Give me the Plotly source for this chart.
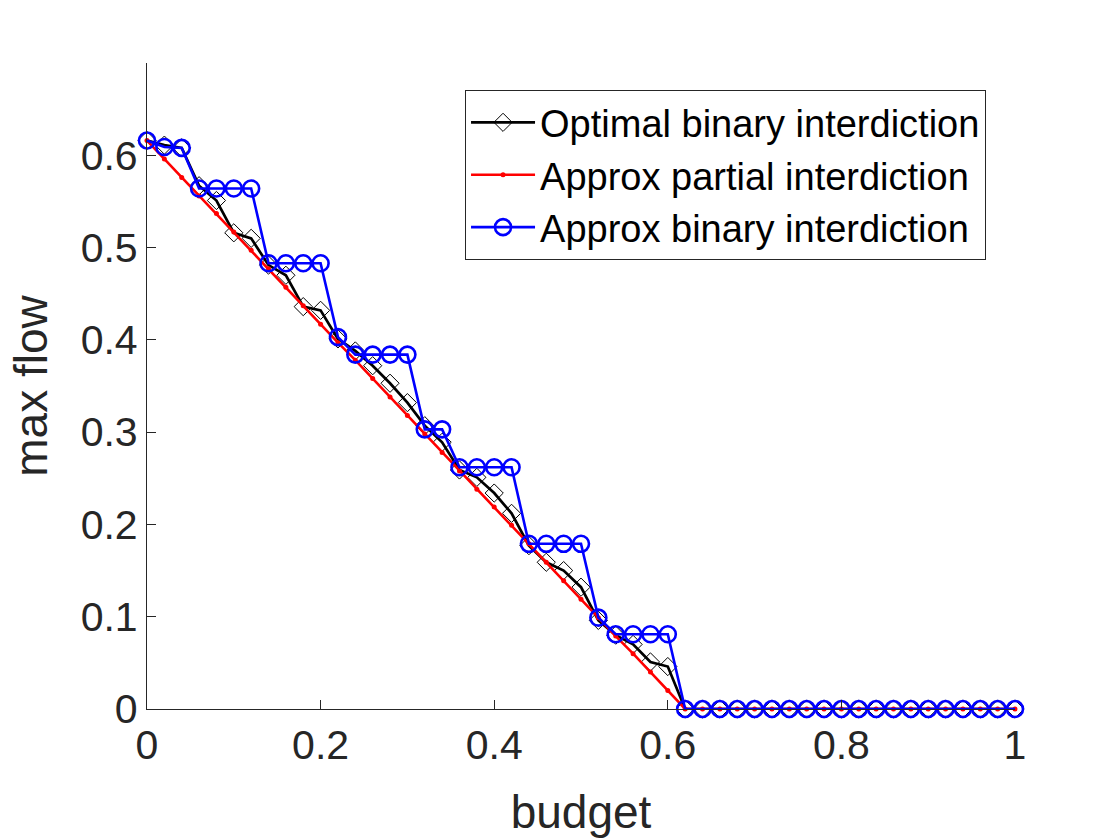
import plotly.graph_objects as go

budget = [round(i * 0.02, 2) for i in range(51)]

optimal_binary = [0.616, 0.611, 0.608, 0.567, 0.551, 0.516, 0.510, 0.481, 0.470, 0.436,
                  0.432, 0.401, 0.388, 0.372, 0.353, 0.332, 0.307, 0.289, 0.259, 0.251,
                  0.234, 0.212, 0.177, 0.159, 0.150, 0.132, 0.096, 0.080, 0.070, 0.051,
                  0.046] + [0.0] * 20

approx_partial = [0.616, 0.596, 0.576, 0.556, 0.537, 0.517, 0.497, 0.477, 0.457, 0.437,
                  0.417, 0.397, 0.378, 0.358, 0.338, 0.318, 0.298, 0.278, 0.258, 0.238,
                  0.219, 0.199, 0.179, 0.159, 0.139, 0.119, 0.099, 0.079, 0.060, 0.040,
                  0.020] + [0.0] * 20

approx_binary = [0.616, 0.609, 0.608, 0.564, 0.564, 0.564, 0.564, 0.483, 0.483, 0.483,
                 0.483, 0.403, 0.384, 0.384, 0.384, 0.384, 0.303, 0.303, 0.262, 0.262,
                 0.262, 0.262, 0.179, 0.179, 0.179, 0.179, 0.099, 0.081, 0.081, 0.081,
                 0.081] + [0.0] * 20

x_ticks = [0, 0.2, 0.4, 0.6, 0.8, 1]
x_labels = ["0", "0.2", "0.4", "0.6", "0.8", "1"]
y_ticks = [0, 0.1, 0.2, 0.3, 0.4, 0.5, 0.6]
y_labels = ["0", "0.1", "0.2", "0.3", "0.4", "0.5", "0.6"]

FONT = "Liberation Sans, Arial, Helvetica, sans-serif"
AX = "#262626"

fig = go.Figure()
fig.add_trace(go.Scatter(
    x=budget, y=optimal_binary, mode="lines+markers", name="Optimal binary interdiction",
    line=dict(color="black", width=2.7),
    marker=dict(symbol="diamond-open", size=14, color="black", line=dict(width=1, color="black")),
    cliponaxis=False))
fig.add_trace(go.Scatter(
    x=budget, y=approx_partial, mode="lines+markers", name="Approx partial interdiction",
    line=dict(color="red", width=2.6),
    marker=dict(symbol="circle", size=5, color="red"),
    cliponaxis=False))
fig.add_trace(go.Scatter(
    x=budget, y=approx_binary, mode="lines+markers", name="Approx binary interdiction",
    line=dict(color="blue", width=2.6),
    marker=dict(symbol="circle-open", size=16, color="blue", line=dict(width=2.6, color="blue")),
    cliponaxis=False))

fig.update_layout(
    width=1120, height=840,
    margin=dict(l=147, r=105, t=63, b=131),
    paper_bgcolor="white", plot_bgcolor="white",
    font=dict(family=FONT, size=41, color=AX),
    showlegend=True,
    legend=dict(
        x=0.3664, y=0.958, xanchor="left", yanchor="top",
        bgcolor="white", bordercolor="#262626", borderwidth=1,
        font=dict(family=FONT, size=38, color="black"),
        itemwidth=64, tracegroupgap=0,
    ),
    xaxis=dict(
        range=[0, 1], tickvals=x_ticks, ticktext=x_labels,
        ticks="inside", ticklen=9, tickwidth=1.3, tickcolor=AX,
        showline=True, linecolor=AX, linewidth=1.3, mirror=False,
        showgrid=False, zeroline=False,
        tickfont=dict(size=41, color=AX),
        title=dict(text="budget", font=dict(size=46, color=AX), standoff=28),
    ),
    yaxis=dict(
        range=[0, 0.7], tickvals=y_ticks, ticktext=y_labels,
        ticks="inside", ticklen=9, tickwidth=1.3, tickcolor=AX,
        showline=True, linecolor=AX, linewidth=1.3, mirror=False,
        showgrid=False, zeroline=False,
        tickfont=dict(size=41, color=AX),
        title=dict(text="max flow", font=dict(size=46, color=AX), standoff=18),
    ),
)

fig.write_html("out.html")
